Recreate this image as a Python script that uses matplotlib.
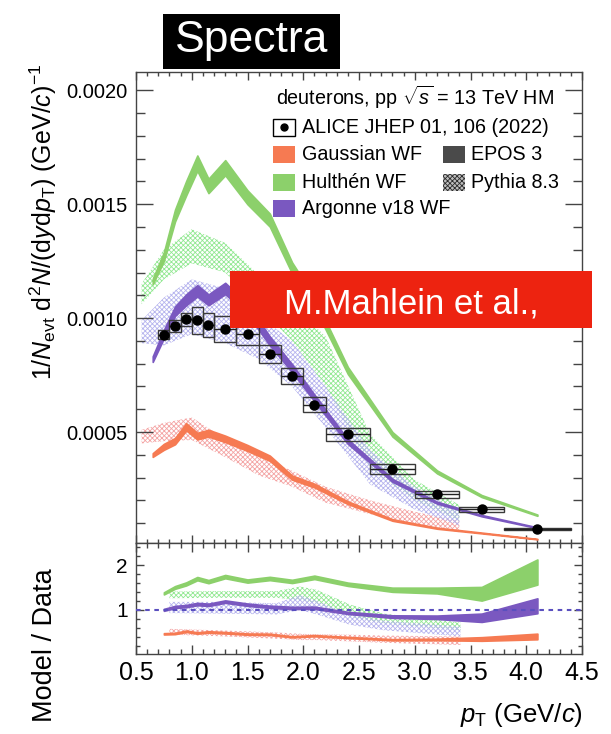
import matplotlib
matplotlib.use('Agg')
import matplotlib.pyplot as plt
import numpy as np
from matplotlib.patches import Rectangle
from matplotlib.ticker import MultipleLocator, FormatStrFormatter

plt.rcParams['font.family'] = ['Liberation Sans', 'DejaVu Sans']
plt.rcParams['mathtext.fontset'] = 'custom'
plt.rcParams['mathtext.rm'] = 'Liberation Sans'
plt.rcParams['mathtext.it'] = 'Liberation Sans:italic'
plt.rcParams['mathtext.bf'] = 'Liberation Sans:bold'
plt.rcParams['hatch.linewidth'] = 0.6

# ALICE deuterons, pp 13 TeV high multiplicity
pt_data = [0.75, 0.85, 0.95, 1.05, 1.15, 1.3, 1.5, 1.7, 1.9, 2.1, 2.4, 2.8, 3.2, 3.6, 4.1]
pt_halfwidth = [0.05, 0.05, 0.05, 0.05, 0.05, 0.1, 0.1, 0.1, 0.1, 0.1, 0.2, 0.2, 0.2, 0.2, 0.3]
yield_data = [0.000928, 0.000966, 0.000994, 0.000990, 0.000969, 0.000953, 0.000931, 0.000841,
              0.000746, 0.000620, 0.000490, 0.000338, 0.000227, 0.000161, 0.0000732]
stat_data = [0.000008, 0.000008, 0.000008, 0.000008, 0.000008, 0.000007, 0.000007, 0.000007,
             0.000007, 0.000006, 0.000006, 0.0000085, 0.0000091, 0.0000177, 0.000011]
sys_data = [0.000021, 0.000026, 0.000030, 0.000058, 0.000054, 0.000058, 0.000049, 0.000040,
            0.000037, 0.000032, 0.000029, 0.000020, 0.0000145, 0.000010, 0.0000045]

# EPOS 3 + coalescence, one band per wave function
pt_model = [0.65, 0.75, 0.85, 0.95, 1.05, 1.15, 1.3, 1.5, 1.7, 1.9, 2.1, 2.4, 2.8, 3.2, 3.6, 4.1]
gauss_epos = [0.000399, 0.000435, 0.000460, 0.000523, 0.000482, 0.000495, 0.000470, 0.000430,
              0.000385, 0.000300, 0.000265, 0.000190, 0.000114, 0.000078, 0.000057, 0.000030]
gauss_rel = [0.02, 0.03, 0.03, 0.03, 0.03, 0.03, 0.03, 0.03, 0.03, 0.03, 0.03, 0.03, 0.03, 0.03, 0.03, 0.03]
hulthen_epos = [0.00116, 0.00127, 0.00145, 0.00157, 0.00168, 0.00158, 0.00166, 0.00153,
                0.00143, 0.00122, 0.00107, 0.00077, 0.00049, 0.000325, 0.000219, 0.000135]
hulthen_rel = [0.01, 0.015, 0.018, 0.02, 0.02, 0.02, 0.02, 0.02, 0.02, 0.02, 0.02, 0.02, 0.02, 0.02, 0.02, 0.02]
argonne_epos = [0.00082, 0.00093, 0.00103, 0.00108, 0.00112, 0.00108, 0.00113, 0.00104,
                0.00090, 0.00078, 0.00065, 0.000458, 0.000288, 0.000190, 0.000133, 0.000080]
argonne_rel = [0.015, 0.02, 0.02, 0.022, 0.022, 0.022, 0.022, 0.022, 0.022, 0.022, 0.022, 0.022, 0.022, 0.022, 0.022, 0.022]

# Pythia 8.3 + coalescence (lower / upper edge)
pt_pythia = [0.55, 0.75, 1.0, 1.3, 1.6, 1.9, 2.2, 2.6, 3.0, 3.4]
gauss_py_lo = [0.00045, 0.00046, 0.000465, 0.00039, 0.00031, 0.00026, 0.00019, 0.00014, 0.000095, 0.00006]
gauss_py_hi = [0.00051, 0.00054, 0.000564, 0.00047, 0.00039, 0.00033, 0.00026, 0.00020, 0.00015, 0.00011]
hulthen_py_lo = [0.00106, 0.00117, 0.00124, 0.00120, 0.00105, 0.00090, 0.00070, 0.00034, 0.00020, 0.00011]
hulthen_py_hi = [0.00115, 0.00130, 0.00139, 0.00133, 0.00119, 0.00106, 0.00092, 0.00049, 0.00029, 0.00018]
argonne_py_lo = [0.00089, 0.00088, 0.00093, 0.00089, 0.00082, 0.00070, 0.00052, 0.00027, 0.00016, 0.00009]
argonne_py_hi = [0.00099, 0.00109, 0.00117, 0.00113, 0.00101, 0.00090, 0.00070, 0.00042, 0.00026, 0.00015]

# Pythia model / data
pt_pythia_ratio = [0.8, 1.2, 1.76, 1.97, 2.12, 2.42, 2.72, 3.41]
gauss_pyr_lo = [0.45, 0.42, 0.36, 0.33, 0.33, 0.30, 0.27, 0.22]
gauss_pyr_hi = [0.58, 0.55, 0.50, 0.47, 0.46, 0.45, 0.43, 0.41]
hulthen_pyr_lo = [1.26, 1.27, 1.27, 1.22, 1.15, 0.85, 0.70, 0.55]
hulthen_pyr_hi = [1.41, 1.42, 1.42, 1.52, 1.45, 1.12, 0.92, 0.72]
argonne_pyr_lo = [0.93, 0.92, 0.90, 1.00, 0.90, 0.67, 0.55, 0.41]
argonne_pyr_hi = [1.18, 1.18, 1.15, 1.33, 1.20, 0.90, 0.76, 0.63]

c_gauss, c_hulthen, c_argonne = '#F67A52', '#8CD06B', '#7A58C0'
h_gauss, h_hulthen, h_argonne = '#F4A4A4', '#92E892', '#B6B4EE'

W, H = 611, 734
fig = plt.figure(figsize=(W / 100, H / 100), dpi=100)
ax = fig.add_axes([136 / W, 1 - 543 / H, 446 / W, 471 / H])
axr = fig.add_axes([136 / W, 1 - 654 / H, 446 / W, 111 / H], sharex=ax)

x_d = np.array(pt_data)
y_d = np.array(yield_data)
stat = np.array(stat_data)


def hatch_band(a, x, lo, hi, color):
    a.fill_between(x, lo, hi, facecolor='none', edgecolor=color, hatch='xxxxxxx', linewidth=0, zorder=1)


def solid_band(a, x, lo, hi, color):
    a.fill_between(x, lo, hi, facecolor=color, edgecolor=color, linewidth=1.2, zorder=2)


# top panel: spectra
hatch_band(ax, pt_pythia, gauss_py_lo, gauss_py_hi, h_gauss)
hatch_band(ax, pt_pythia, hulthen_py_lo, hulthen_py_hi, h_hulthen)
hatch_band(ax, pt_pythia, argonne_py_lo, argonne_py_hi, h_argonne)

for vals, rel, col in [(gauss_epos, gauss_rel, c_gauss),
                       (hulthen_epos, hulthen_rel, c_hulthen),
                       (argonne_epos, argonne_rel, c_argonne)]:
    v = np.array(vals)
    r = np.array(rel)
    solid_band(ax, pt_model, v * (1 - r), v * (1 + r), col)

for x, hw, y, s in zip(pt_data, pt_halfwidth, yield_data, sys_data):
    ax.add_patch(Rectangle((x - hw, y - s), 2 * hw, 2 * s, fill=False,
                           edgecolor='#3a3a3a', linewidth=1.0, zorder=3))
ax.errorbar(pt_data, yield_data, xerr=pt_halfwidth, yerr=stat_data, fmt='o', color='black',
            ecolor='#222222', elinewidth=1.0, capsize=0, ms=6.5, zorder=5)

ax.set_xlim(0.5, 4.5)
ax.set_ylim(1.3e-5, 0.00208)
ax.yaxis.set_major_locator(MultipleLocator(0.0005))
ax.yaxis.set_minor_locator(MultipleLocator(0.0001))
ax.yaxis.set_major_formatter(FormatStrFormatter('%.4f'))
ax.xaxis.set_major_locator(MultipleLocator(0.5))
ax.xaxis.set_minor_locator(MultipleLocator(0.1))
ax.tick_params(axis='x', which='both', labelbottom=False)
ax.tick_params(which='both', direction='in', top=True, right=True, colors='#444444',
               labelcolor='black', width=1.0)
ax.tick_params(axis='y', which='major', length=12, labelsize=14.5, pad=6)
ax.tick_params(axis='y', which='minor', length=6.5)
ax.tick_params(axis='x', which='major', length=6)
ax.tick_params(axis='x', which='minor', length=3)

# legend
tr = ax.transAxes
ax.text(0.314, 0.945, r'deuterons, pp $\sqrt{s}$ = 13 TeV HM', transform=tr, fontsize=14.2,
        va='center', ha='left')
pw, ph = 0.05, 0.036
ax.add_patch(Rectangle((0.3065, 0.883 - ph / 2), pw, ph, transform=tr, fill=False,
                       edgecolor='black', linewidth=1.0))
ax.plot([0.3065 + pw / 2], [0.883], 'o', color='black', ms=5, transform=tr)
ax.text(0.3715, 0.883, 'ALICE JHEP 01, 106 (2022)', transform=tr, fontsize=14.2, va='center')
legend_rows = [(0.824, c_gauss, 'Gaussian WF'),
               (0.766, c_hulthen, 'Hulthén WF'),
               (0.711, c_argonne, 'Argonne v18 WF')]
for yy, col, lab in legend_rows:
    ax.add_patch(Rectangle((0.3065, yy - ph / 2), pw, ph, transform=tr, facecolor=col,
                           edgecolor='none'))
    ax.text(0.3715, yy, lab, transform=tr, fontsize=14.2, va='center')
ax.add_patch(Rectangle((0.6877, 0.824 - ph / 2), pw, ph, transform=tr, facecolor='#4a4a4a',
                       edgecolor='none'))
ax.text(0.7505, 0.824, 'EPOS 3', transform=tr, fontsize=14.2, va='center')
ax.add_patch(Rectangle((0.6877, 0.766 - ph / 2), pw, ph, transform=tr, facecolor='#bdbdbd',
                       edgecolor='#2a2a2a', hatch='xxxxxxx', linewidth=0))
ax.text(0.7505, 0.766, 'Pythia 8.3', transform=tr, fontsize=14.2, va='center')

# bottom panel: model / data
hatch_band(axr, pt_pythia_ratio, gauss_pyr_lo, gauss_pyr_hi, h_gauss)
hatch_band(axr, pt_pythia_ratio, hulthen_pyr_lo, hulthen_pyr_hi, h_hulthen)
hatch_band(axr, pt_pythia_ratio, argonne_pyr_lo, argonne_pyr_hi, h_argonne)

for vals, rel, col in [(gauss_epos, gauss_rel, c_gauss),
                       (hulthen_epos, hulthen_rel, c_hulthen),
                       (argonne_epos, argonne_rel, c_argonne)]:
    m = np.array(vals[1:])
    r = np.array(rel[1:])
    ratio = m / y_d
    err = ratio * np.sqrt(r ** 2 + (stat / y_d) ** 2)
    solid_band(axr, pt_data, ratio - err, ratio + err, col)

axr.axhline(1.0, color='#5a4fbf', linestyle=(0, (2.2, 2.2)), linewidth=1.5, zorder=4)
axr.set_ylim(0.02, 2.49)
axr.yaxis.set_major_locator(MultipleLocator(1))
axr.yaxis.set_minor_locator(MultipleLocator(0.2))
axr.xaxis.set_major_formatter(FormatStrFormatter('%.1f'))
axr.tick_params(which='both', direction='in', top=True, right=True, colors='#444444',
                labelcolor='black', width=1.0)
axr.tick_params(axis='y', which='major', length=6, labelsize=15, pad=6)
axr.tick_params(axis='y', which='minor', length=3)
axr.tick_params(axis='x', which='major', length=6.5, labelsize=18, pad=5)
axr.tick_params(axis='x', which='minor', length=3.5)

for a in (ax, axr):
    for sp in a.spines.values():
        sp.set_color('#444444')
        sp.set_linewidth(1.0)

fig.text(43 / W, 1 - 222 / H,
         r'1/$N_{\rm evt}$ d$^{2}N$/(d$y$d$p_{\rm T}$) (GeV/$c$)$^{-1}$',
         rotation=90, ha='center', va='center', fontsize=18)
fig.text(45 / W, 1 - 645 / H, 'Model / Data', rotation=90, ha='center', va='center', fontsize=19.5)
fig.text(583 / W, 1 - 722 / H, r'$p_{\rm T}$ (GeV/$c$)', ha='right', va='baseline', fontsize=18.5)

# title tag and author banner
fig.add_artist(Rectangle((163 / W, 1 - 69 / H), 177 / W, 55 / H, transform=fig.transFigure,
                         facecolor='black', edgecolor='none', zorder=10))
fig.text(251.5 / W, 1 - 52 / H, 'Spectra', color='white', ha='center', va='baseline',
         fontsize=32, zorder=11)
fig.add_artist(Rectangle((230 / W, 1 - 328 / H), 362 / W, 57 / H, transform=fig.transFigure,
                         facecolor='#ED2310', edgecolor='none', zorder=10))
fig.text(411 / W, 1 - 313.5 / H, 'M.Mahlein et al.,', color='white', ha='center', va='baseline',
         fontsize=25, zorder=11)

fig.savefig('out.png', dpi=100)
